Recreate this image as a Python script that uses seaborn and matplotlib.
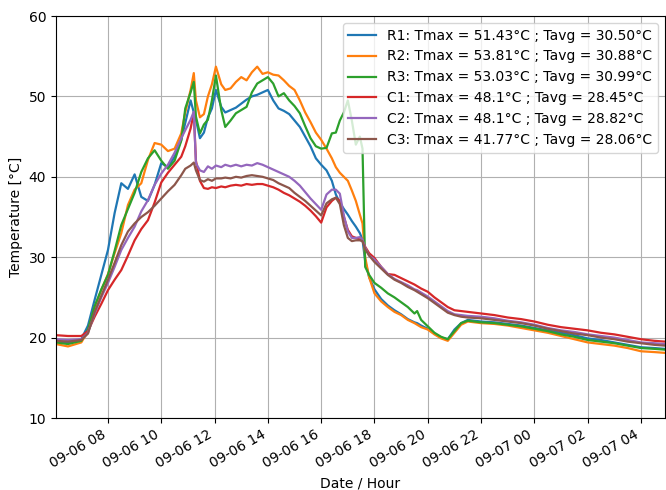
import numpy as np
import pandas as pd
import matplotlib
matplotlib.use("Agg")
import matplotlib.pyplot as plt
import matplotlib.dates as mdates
import seaborn as sns

# hours since 2023-09-06 00:00
hours = [6.05, 6.5, 7.0, 7.25, 7.5, 7.75, 8.0, 8.25, 8.5, 8.75,
         9.0, 9.25, 9.5, 9.75, 10.0, 10.25, 10.5, 10.75, 10.9, 11.1,
         11.22, 11.3, 11.45, 11.6, 11.75, 11.9, 12.05, 12.25, 12.4, 12.6,
         12.8, 13.0, 13.2, 13.4, 13.6, 13.8, 14.0, 14.2, 14.4, 14.6,
         14.8, 15.0, 15.2, 15.4, 15.6, 15.8, 16.0, 16.2, 16.4, 16.55,
         16.7, 16.85, 17.0, 17.15, 17.3, 17.45, 17.55, 17.65, 17.8, 18.0,
         18.25, 18.5, 18.75, 19.0, 19.25, 19.5, 19.6, 19.75, 20.0, 20.25,
         20.5, 20.75, 21.0, 21.25, 21.5, 22.0, 22.5, 23.0, 23.5, 24.0,
         24.5, 25.0, 25.5, 26.0, 26.5, 27.0, 27.5, 28.0, 28.5, 28.9]

R1 = [19.5, 19.4, 19.8, 21.5, 24.7, 27.8, 30.9, 35.5, 39.2, 38.5,
      40.3, 37.5, 37.0, 39.0, 41.7, 41.2, 42.5, 44.6, 46.7, 49.5,
      48.0, 47.1, 44.8, 45.5, 47.4, 48.5, 50.8, 48.7, 48.0, 48.3,
      48.6, 49.1, 49.6, 50.0, 50.2, 50.5, 50.8, 49.5, 48.5, 48.2,
      47.8, 47.0, 46.2, 45.0, 43.8, 42.3, 41.5, 40.8, 39.5, 37.8,
      36.8, 36.0, 35.3, 34.5, 33.8, 33.0, 32.2, 29.5, 27.5, 26.0,
      24.8, 24.0, 23.4, 22.9, 22.3, 21.9, 21.8, 21.5, 21.1, 20.5,
      20.0, 19.8, 21.0, 21.8, 22.2, 22.0, 21.9, 21.7, 21.5, 21.2,
      20.9, 20.6, 20.3, 19.9, 19.7, 19.4, 19.1, 18.8, 18.7, 18.6]

R2 = [19.2, 18.9, 19.4, 20.8, 23.8, 25.9, 27.9, 30.5, 33.0, 36.5,
      38.4, 39.2, 42.1, 44.2, 44.0, 43.2, 43.5, 45.4, 48.0, 50.8,
      52.9, 49.5, 47.4, 47.8, 50.0, 51.5, 53.7, 51.5, 50.8, 51.0,
      51.8, 52.4, 52.0, 53.0, 53.7, 52.8, 53.0, 52.7, 52.6, 52.0,
      51.3, 50.8, 49.5, 48.0, 46.8, 45.5, 44.6, 43.5, 42.3, 41.2,
      40.5, 40.0, 39.5, 38.3, 37.0, 35.3, 34.2, 30.0, 27.5, 25.5,
      24.5, 23.8, 23.2, 22.8, 22.2, 21.8, 21.6, 21.3, 21.0, 20.4,
      19.9, 19.6, 20.6, 21.6, 22.0, 21.8, 21.7, 21.5, 21.2, 20.9,
      20.6, 20.2, 19.8, 19.4, 19.2, 19.0, 18.7, 18.3, 18.2, 18.1]

R3 = [19.4, 19.2, 19.6, 21.0, 23.9, 26.0, 27.8, 30.8, 34.0, 36.0,
      38.0, 40.6, 42.3, 43.3, 42.0, 41.0, 42.0, 44.5, 48.5, 50.5,
      51.8, 47.5, 45.4, 46.5, 47.1, 49.5, 52.6, 48.3, 46.2, 47.0,
      47.9, 48.3, 48.7, 50.5, 51.6, 52.0, 52.4, 51.6, 50.0, 50.4,
      49.5, 48.8, 47.9, 46.3, 44.8, 43.8, 43.5, 43.6, 45.4, 45.5,
      47.0, 48.0, 49.5, 47.0, 44.0, 45.0, 43.5, 28.8, 27.8, 26.8,
      26.2, 25.5, 25.0, 24.4, 23.8, 23.0, 23.3, 22.2, 21.4, 20.6,
      20.1, 19.8, 20.8, 21.8, 22.1, 21.9, 21.8, 21.6, 21.4, 21.1,
      20.8, 20.4, 20.1, 19.7, 19.5, 19.3, 19.0, 18.7, 18.6, 18.5]

C1 = [20.3, 20.2, 20.2, 20.8, 22.6, 24.2, 25.9, 27.2, 28.4, 30.2,
      32.1, 33.5, 34.6, 36.8, 39.3, 40.5, 41.5, 42.5, 43.8, 46.0,
      48.0, 42.0, 39.5, 38.6, 38.5, 38.7, 38.6, 38.8, 38.7, 38.9,
      39.0, 38.9, 39.1, 39.0, 39.1, 39.1, 38.9, 38.7, 38.4, 38.0,
      37.7, 37.3, 36.9, 36.4, 35.8, 35.1, 34.3, 36.2, 37.0, 37.4,
      37.0, 35.0, 33.4, 32.6, 32.4, 32.2, 32.0, 31.3, 30.5, 29.9,
      28.8, 27.9, 27.8, 27.4, 27.0, 26.6, 26.4, 26.1, 25.7, 25.0,
      24.4, 23.8, 23.4, 23.3, 23.2, 23.0, 22.8, 22.5, 22.3, 22.0,
      21.6, 21.3, 21.1, 20.9, 20.6, 20.4, 20.1, 19.8, 19.6, 19.5]

C2 = [19.8, 19.7, 19.8, 20.6, 23.0, 25.0, 26.8, 28.8, 30.9, 32.4,
      33.8, 35.7, 37.1, 39.0, 40.4, 41.5, 43.0, 44.8, 45.8, 47.1,
      48.1, 41.7, 40.8, 40.6, 41.3, 41.0, 41.4, 41.2, 41.5, 41.3,
      41.5, 41.3, 41.5, 41.4, 41.7, 41.5, 41.2, 40.9, 40.6, 40.3,
      40.0, 39.5, 38.9, 38.1, 37.3, 36.6, 35.9, 37.8, 38.4, 38.4,
      37.9, 35.2, 33.2, 32.4, 32.4, 32.5, 32.2, 31.2, 30.2, 29.7,
      28.8, 27.9, 27.3, 26.9, 26.5, 26.0, 25.9, 25.6, 25.1, 24.5,
      23.9, 23.3, 22.9, 22.8, 22.7, 22.6, 22.4, 22.1, 21.9, 21.6,
      21.2, 20.9, 20.7, 20.4, 20.2, 20.0, 19.7, 19.4, 19.3, 19.2]

C3 = [19.6, 19.5, 19.7, 20.5, 23.2, 25.2, 27.2, 29.3, 31.5, 33.2,
      34.2, 35.0, 35.6, 36.4, 37.3, 38.2, 39.0, 40.2, 41.0, 41.4,
      41.77, 40.8, 39.6, 39.4, 39.7, 39.5, 39.8, 39.8, 39.9, 39.8,
      40.0, 39.9, 40.1, 40.2, 40.1, 40.0, 39.8, 39.6, 39.2, 38.9,
      38.6, 38.0, 37.5, 37.0, 36.4, 35.8, 35.2, 36.7, 37.2, 37.4,
      36.6, 34.0, 32.4, 32.0, 32.1, 32.1, 32.0, 31.0, 30.2, 29.4,
      28.6, 27.8, 27.2, 26.8, 26.3, 25.9, 25.7, 25.4, 24.9, 24.3,
      23.7, 23.1, 22.8, 22.6, 22.5, 22.4, 22.2, 22.0, 21.8, 21.5,
      21.1, 20.8, 20.5, 20.3, 20.0, 19.8, 19.5, 19.3, 19.1, 19.0]

sensors = ["R1", "R2", "R3", "C1", "C2", "C3"]
legend_labels = [
    "R1: Tmax = 51.43°C ; Tavg = 30.50°C",
    "R2: Tmax = 53.81°C ; Tavg = 30.88°C",
    "R3: Tmax = 53.03°C ; Tavg = 30.99°C",
    "C1: Tmax = 48.1°C ; Tavg = 28.45°C",
    "C2: Tmax = 48.1°C ; Tavg = 28.82°C",
    "C3: Tmax = 41.77°C ; Tavg = 28.06°C",
]
series = [R1, R2, R3, C1, C2, C3]

start = pd.Timestamp("2023-09-06 00:00")
times = [start + pd.Timedelta(hours=h) for h in hours]
frames = []
for name, vals in zip(sensors, series):
    assert len(vals) == len(hours), name
    frames.append(pd.DataFrame({"time": times, "temp": vals, "sensor": name}))
df = pd.concat(frames, ignore_index=True)

fig = plt.figure(figsize=(6.66, 4.90), dpi=100)
ax = fig.add_axes([56 / 666, 1 - 418 / 490, 609 / 666, (418 - 16) / 490])

palette = sns.color_palette("tab10", 6)
sns.lineplot(data=df, x="time", y="temp", hue="sensor", hue_order=sensors,
             palette=palette, linewidth=1.6, ax=ax, estimator=None)

ax.set_ylim(10, 60)
ax.set_yticks([10, 20, 30, 40, 50, 60])
ax.set_xlim(times[0], times[-1])
ax.xaxis.set_major_locator(mdates.HourLocator(byhour=range(0, 24, 2)))
ax.xaxis.set_major_formatter(mdates.DateFormatter("%m-%d %H"))
plt.setp(ax.get_xticklabels(), rotation=30, ha="right")
ax.grid(True, color="#b0b0b0", linewidth=0.8)
ax.set_xlabel("Date / Hour", fontsize=10)
ax.set_ylabel("Temperature [°C]", fontsize=10)

handles, _ = ax.get_legend_handles_labels()
ax.legend(handles[:6], legend_labels, loc="upper right", fontsize=10)

fig.savefig("out.png", dpi=100)
